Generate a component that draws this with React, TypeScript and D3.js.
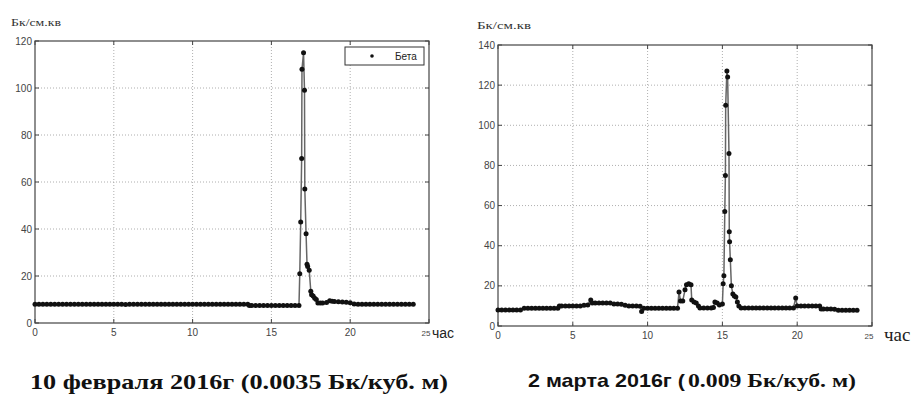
import React from "react";
import * as d3 from "d3";

const xTicks = [0, 5, 10, 15, 20, 25];
const febYTicks = [0, 20, 40, 60, 80, 100, 120];
const marYTicks = [0, 20, 40, 60, 80, 100, 120, 140];

const febData: [number, number][] = [
  [0, 8], [0.25, 8], [0.5, 8], [0.75, 8], [1, 8], [1.25, 8], [1.5, 8], [1.75, 8], [2, 8], [2.25, 8],
  [2.5, 8], [2.75, 8], [3, 8], [3.25, 8], [3.5, 8], [3.75, 8], [4, 8], [4.25, 8], [4.5, 8], [4.75, 8],
  [5, 8], [5.25, 8], [5.5, 8], [5.75, 7.9], [6, 8], [6.25, 8], [6.5, 8], [6.75, 8], [7, 8], [7.25, 8],
  [7.5, 8], [7.75, 8], [8, 8], [8.25, 8], [8.5, 8], [8.75, 8], [9, 8], [9.25, 8], [9.5, 8], [9.75, 8],
  [10, 8], [10.25, 8], [10.5, 8], [10.75, 8], [11, 8], [11.25, 8], [11.5, 8], [11.75, 8], [12, 8],
  [12.25, 8], [12.5, 8], [12.75, 8], [13, 8], [13.25, 8], [13.5, 8], [13.6, 7.4], [13.75, 7.4],
  [14, 7.4], [14.25, 7.4], [14.5, 7.4], [14.75, 7.4], [15, 7.4], [15.25, 7.4], [15.5, 7.5],
  [15.75, 7.5], [16, 7.5], [16.25, 7.5], [16.5, 7.5], [16.75, 7.5],
  [16.8, 21], [16.86, 43], [16.92, 70], [16.94, 108], [17.04, 115], [17.1, 99], [17.12, 57],
  [17.2, 38], [17.26, 25], [17.3, 24], [17.4, 22.5], [17.5, 13.5], [17.55, 12], [17.65, 11.5],
  [17.75, 10.5], [17.85, 10], [17.95, 8.5], [18.1, 8.5], [18.25, 8.5], [18.5, 8.7], [18.7, 9.5],
  [18.85, 9.3], [19, 9.2], [19.25, 9], [19.5, 8.9], [19.75, 8.8], [20, 8.6], [20.25, 8.1],
  [20.5, 8], [20.75, 8], [21, 8], [21.25, 8], [21.5, 8], [21.75, 8], [22, 8], [22.25, 8],
  [22.5, 8], [22.75, 8], [23, 8], [23.25, 8], [23.5, 8], [23.75, 8], [24, 8],
];

const marData: [number, number][] = [
  [0, 8], [0.25, 8], [0.5, 8], [0.75, 8], [1, 8], [1.25, 8], [1.5, 8], [1.75, 8.8], [2, 8.8],
  [2.25, 8.8], [2.5, 8.8], [2.75, 8.8], [3, 8.8], [3.25, 8.8], [3.5, 8.8], [3.75, 8.8], [4, 8.8],
  [4.1, 10], [4.25, 10], [4.5, 10], [4.75, 10], [5, 10], [5.25, 10], [5.5, 10], [5.75, 10.3],
  [6, 10.5], [6.2, 13], [6.3, 11.5], [6.5, 11.5], [6.75, 11.5], [7, 11.5], [7.25, 11.5],
  [7.5, 11.5], [7.75, 11], [8, 11], [8.25, 10.8], [8.5, 10.3], [8.75, 10], [9, 10], [9.25, 10],
  [9.5, 9.8], [9.6, 7.2], [9.75, 8.8], [10, 8.8], [10.25, 8.8], [10.5, 8.8], [10.75, 8.8],
  [11, 8.8], [11.25, 8.8], [11.5, 8.8], [11.75, 8.8], [12, 8.8], [12.1, 17], [12.2, 12.5],
  [12.35, 12.5], [12.5, 18], [12.6, 20.5], [12.75, 21], [12.9, 20.5], [12.95, 13], [13.1, 12],
  [13.25, 11.5], [13.4, 10], [13.5, 9], [13.75, 9], [14, 9], [14.25, 9], [14.4, 9.2],
  [14.5, 12], [14.65, 11.5], [14.8, 10.5], [15, 11], [15.05, 21], [15.1, 25], [15.16, 57],
  [15.2, 75], [15.22, 110], [15.3, 127], [15.35, 124], [15.44, 86], [15.46, 47], [15.48, 42],
  [15.53, 33], [15.6, 20], [15.7, 16], [15.8, 15], [15.9, 14.5], [16, 12], [16.1, 10],
  [16.25, 9], [16.5, 9], [16.75, 9], [17, 9], [17.25, 9], [17.5, 9], [17.75, 9], [18, 9],
  [18.25, 9], [18.5, 9], [18.75, 9], [19, 9], [19.25, 9], [19.5, 9], [19.75, 9], [19.9, 14],
  [20, 10], [20.25, 10], [20.5, 10], [20.75, 10], [21, 10], [21.25, 10], [21.5, 10], [21.6, 8.5],
  [21.75, 8.5], [22, 8.5], [22.25, 8.5], [22.5, 8.3], [22.75, 7.8], [23, 7.8], [23.25, 7.8],
  [23.5, 7.8], [23.75, 7.8], [24, 7.8],
];

type PanelProps = {
  left: number; right: number; top: number; bottom: number;
  yMax: number; yTicks: number[]; data: [number, number][];
  legend?: boolean;
};

function Panel({ left, right, top, bottom, yMax, yTicks, data, legend }: PanelProps) {
  const x = d3.scaleLinear().domain([0, 25]).range([left, right]);
  const y = d3.scaleLinear().domain([0, yMax]).range([bottom, top]);
  const line = d3.line<[number, number]>().x((d) => x(d[0])).y((d) => y(d[1]));
  const tl = 4;
  return (
    <g>
      {xTicks.slice(1, -1).map((t) => (
        <line key={"gx" + t} x1={x(t)} x2={x(t)} y1={top} y2={bottom} stroke="#9a9a9a" strokeWidth={0.8} strokeDasharray="1,2" />
      ))}
      {yTicks.slice(1, -1).map((t) => (
        <line key={"gy" + t} x1={left} x2={right} y1={y(t)} y2={y(t)} stroke="#9a9a9a" strokeWidth={0.8} strokeDasharray="1,2" />
      ))}
      <rect x={left} y={top} width={right - left} height={bottom - top} fill="none" stroke="#444" strokeWidth={1.2} />
      {xTicks.map((t) => (
        <g key={"tx" + t}>
          <line x1={x(t)} x2={x(t)} y1={bottom} y2={bottom - tl} stroke="#444" />
          <line x1={x(t)} x2={x(t)} y1={top} y2={top + tl} stroke="#444" />
          <text x={t === 25 ? x(t) - 3 : x(t)} y={bottom + 13} textAnchor="middle" fontFamily="Liberation Sans" fontSize={t === 25 ? 8 : 10} fill="#444">{t}</text>
        </g>
      ))}
      {yTicks.map((t) => (
        <g key={"ty" + t}>
          <line x1={left} x2={left + tl} y1={y(t)} y2={y(t)} stroke="#444" />
          <line x1={right} x2={right - tl} y1={y(t)} y2={y(t)} stroke="#444" />
          <text x={left - 3} y={y(t) + 3.5} textAnchor="end" fontFamily="Liberation Sans" fontSize={10} fill="#444">{t}</text>
        </g>
      ))}
      <path d={line(data) || ""} fill="none" stroke="#666" strokeWidth={1.5} />
      {data.map((d, i) => (
        <circle key={i} cx={x(d[0])} cy={y(d[1])} r={2.5} fill="#111" />
      ))}
      {legend && (
        <g>
          <rect x={345} y={47} width={79} height={18} fill="#fff" stroke="#333" strokeWidth={1} />
          <circle cx={372} cy={56} r={1.8} fill="#111" />
          <text x={395} y={60} fontFamily="Liberation Sans" fontSize={10} fill="#222">Бета</text>
        </g>
      )}
    </g>
  );
}

export default function App() {
  return (
    <svg width={913} height={394} style={{ position: "absolute", left: 0, top: 0, background: "#fff" }}>
      <rect width={913} height={394} fill="#fff" />
      <text x={11} y={26} fontFamily="Liberation Serif" fontSize={10} fill="#333" textLength={50} lengthAdjust="spacingAndGlyphs">Бк/см.кв</text>
      <Panel left={35} right={429} top={41} bottom={323} yMax={120} yTicks={febYTicks} data={febData} legend />
      <text x={432} y={338} fontFamily="Liberation Sans" fontSize={14} fill="#222">час</text>
      <text x={30} y={389} fontFamily="Liberation Serif" fontWeight="bold" fontSize={21} fill="#111" textLength={418} lengthAdjust="spacingAndGlyphs">10 февраля 2016г (0.0035 Бк/куб. м)</text>

      <text x={477} y={29} fontFamily="Liberation Serif" fontSize={10} fill="#333" textLength={54} lengthAdjust="spacingAndGlyphs">Бк/см.кв</text>
      <Panel left={498} right={872} top={45} bottom={326} yMax={140} yTicks={marYTicks} data={marData} />
      <text x={884} y={341} fontFamily="Liberation Serif" fontSize={19} fill="#222">час</text>
      <text x={528} y={387} fontFamily="Liberation Sans" fontWeight="bold" fontSize={19} fill="#111" textLength={157} lengthAdjust="spacingAndGlyphs">2 марта 2016г (</text>
      <text x={688} y={387} fontFamily="Liberation Serif" fontWeight="bold" fontSize={19} fill="#111" textLength={168} lengthAdjust="spacingAndGlyphs">0.009 Бк/куб. м)</text>
    </svg>
  );
}
